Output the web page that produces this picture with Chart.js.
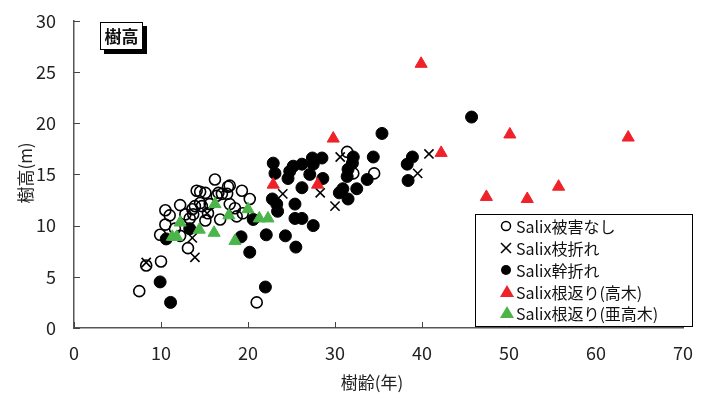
<!DOCTYPE html>
<html>
<head>
<meta charset="utf-8">
<script src="https://cdn.jsdelivr.net/npm/chart.js@4/dist/chart.umd.min.js"></script>
<style>
  html, body { margin: 0; padding: 0; background: #fff; }
  #wrap { position: relative; width: 706px; height: 394px; }
</style>
</head>
<body>
<div id="wrap"><canvas id="c" width="706" height="394"></canvas></div>
<script>
// Tree age (x, years) and tree height (y, m), one pair of arrays per damage type.
const intactAge = [7.5, 8.3, 10.0, 10.5, 11.0, 12.2, 10.5, 9.9, 13.1, 14.5, 16.2, 13.6, 13.9, 14.7, 15.1,
  16.4, 17.0, 17.6, 17.7, 16.8, 15.4, 12.2, 13.3, 12.8, 17.9, 14.1, 15.1, 16.6, 19.3, 20.2, 14.5, 15.6,
  17.9, 18.5, 13.7, 18.7, 19.4, 21.0, 31.4, 32.1, 34.5, 11.6];
const intactHeight = [3.6, 6.1, 6.5, 11.5, 11.0, 12.0, 10.1, 9.1, 7.8, 13.3, 14.5, 11.6, 11.9, 11.9, 10.5,
  12.9, 13.1, 13.1, 13.8, 10.6, 11.2, 9.0, 10.7, 11.1, 13.9, 13.4, 13.2, 13.2, 13.4, 12.6, 12.2, 12.1,
  12.1, 11.7, 11.1, 10.9, 11.2, 2.5, 17.2, 15.1, 15.1, 9.7];

const branchAge = [8.3, 13.9, 13.6, 15.3, 24.0, 28.3, 30.0, 30.6, 40.8, 39.5];
const branchHeight = [6.4, 6.9, 8.8, 11.2, 13.1, 13.2, 11.9, 16.7, 17.0, 15.1];

const trunkAge = [9.9, 11.1, 13.3, 10.6, 19.2, 20.2, 22.0, 22.1, 24.3, 25.5, 22.9, 23.1, 22.8, 23.3, 23.4,
  25.4, 26.2, 27.5, 25.4, 26.2, 24.6, 24.8, 25.2, 26.2, 27.4, 27.5, 28.5, 27.1, 28.6, 30.5, 30.9, 31.5,
  32.5, 31.4, 31.5, 32.0, 32.1, 34.4, 33.7, 35.4, 38.9, 38.3, 38.4, 45.7, 20.6];
const trunkHeight = [4.5, 2.5, 9.7, 8.7, 8.9, 7.4, 4.0, 9.1, 9.0, 7.9, 16.1, 15.1, 12.6, 12.1, 11.4,
  10.7, 10.7, 10.0, 12.1, 13.7, 14.6, 15.3, 15.8, 16.0, 16.6, 16.0, 16.6, 15.0, 14.6, 13.2, 13.6, 12.6,
  13.6, 14.8, 15.5, 16.1, 16.7, 16.7, 14.5, 19.0, 16.7, 16.0, 14.4, 20.6, 10.6];

const upTallAge = [22.9, 28.0, 29.8, 39.9, 42.2, 50.1, 47.4, 52.1, 55.7, 63.7];
const upTallHeight = [14.0, 14.0, 18.5, 25.8, 17.1, 18.9, 12.8, 12.6, 13.8, 18.6];

const upSubAge = [11.3, 11.8, 12.2, 14.4, 16.1, 16.2, 17.8, 18.5, 20.0, 21.3, 22.3];
const upSubHeight = [8.9, 8.9, 10.3, 9.6, 9.3, 12.1, 11.0, 8.5, 11.6, 10.7, 10.7];

const seriesNames = ["Salix被害なし", "Salix枝折れ", "Salix幹折れ", "Salix根返り(高木)", "Salix根返り(亜高木)"];
const xTicks = [0, 10, 20, 30, 40, 50, 60, 70];
const yTicks = [0, 5, 10, 15, 20, 25, 30];

const RED = "#ee2228";
const GREEN = "#4bb54a";
const FONT = '"Noto Sans CJK JP", "Noto Sans", sans-serif';

function pairs(xs, ys) {
  return xs.map((x, i) => ({ x: x, y: ys[i] }));
}

// Inner tick marks, axis titles, the 樹高 tag and the legend box.
const decorations = {
  id: "decorations",
  afterDraw(chart) {
    const ctx = chart.ctx;
    const xs = chart.scales.x;
    const ys = chart.scales.y;
    const area = chart.chartArea;
    ctx.save();
    ctx.strokeStyle = "#444";
    ctx.lineWidth = 1;
    ctx.beginPath();
    xTicks.forEach((v) => {
      const px = Math.round(xs.getPixelForValue(v)) + 0.5;
      ctx.moveTo(px, area.bottom);
      ctx.lineTo(px, area.bottom - 6);
    });
    yTicks.forEach((v) => {
      const py = Math.round(ys.getPixelForValue(v)) + 0.5;
      ctx.moveTo(area.left, py);
      ctx.lineTo(area.left + 6, py);
    });
    ctx.stroke();

    // Axis titles
    ctx.fillStyle = "#222";
    ctx.font = "17px " + FONT;
    ctx.textAlign = "center";
    ctx.textBaseline = "middle";
    ctx.fillText("樹齢(年)", 372, 383);
    ctx.save();
    ctx.translate(26, 173);
    ctx.rotate(-Math.PI / 2);
    ctx.fillText("樹高(m)", 0, 0);
    ctx.restore();

    // 樹高 tag with drop shadow
    ctx.fillStyle = "#000";
    ctx.fillRect(104, 26, 43, 28);
    ctx.fillStyle = "#fff";
    ctx.fillRect(100, 22, 43, 28);
    ctx.strokeStyle = "#000";
    ctx.lineWidth = 1;
    ctx.strokeRect(100.5, 22.5, 42, 27);
    ctx.fillStyle = "#111";
    ctx.font = "bold 17px " + FONT;
    ctx.fillText("樹高", 121.5, 36.5);

    // Legend
    ctx.fillStyle = "#fff";
    ctx.fillRect(475, 214, 217, 112);
    ctx.strokeStyle = "#000";
    ctx.strokeRect(475.5, 214.5, 217, 112);
    const rows = [226, 248, 270, 292, 313];
    const mx = 506;
    ctx.lineWidth = 1.5;
    // open circle
    ctx.beginPath();
    ctx.arc(mx, rows[0], 4.5, 0, Math.PI * 2);
    ctx.strokeStyle = "#000";
    ctx.stroke();
    // cross
    ctx.beginPath();
    ctx.moveTo(mx - 5, rows[1] - 5);
    ctx.lineTo(mx + 5, rows[1] + 5);
    ctx.moveTo(mx + 5, rows[1] - 5);
    ctx.lineTo(mx - 5, rows[1] + 5);
    ctx.stroke();
    // filled circle
    ctx.beginPath();
    ctx.arc(mx, rows[2], 5, 0, Math.PI * 2);
    ctx.fillStyle = "#000";
    ctx.fill();
    // triangles
    [[rows[3], RED], [rows[4], GREEN]].forEach(([ry, col]) => {
      ctx.beginPath();
      ctx.moveTo(mx + 1, ry - 7);
      ctx.lineTo(mx + 8, ry + 5);
      ctx.lineTo(mx - 6, ry + 5);
      ctx.closePath();
      ctx.fillStyle = col;
      ctx.fill();
    });
    ctx.fillStyle = "#111";
    ctx.font = "16px " + FONT;
    ctx.textAlign = "left";
    seriesNames.forEach((name, i) => {
      ctx.fillText(name, 516, rows[i] + 1);
    });
    ctx.restore();
  },
};

new Chart(document.getElementById("c"), {
  type: "scatter",
  data: {
    datasets: [
      {
        label: seriesNames[4],
        data: pairs(upSubAge, upSubHeight),
        pointStyle: "triangle",
        pointRadius: 7,
        backgroundColor: GREEN,
        borderColor: GREEN,
        borderWidth: 1,
      },
      {
        label: seriesNames[3],
        data: pairs(upTallAge, upTallHeight),
        pointStyle: "triangle",
        pointRadius: 7,
        backgroundColor: RED,
        borderColor: RED,
        borderWidth: 1,
      },
      {
        label: seriesNames[2],
        data: pairs(trunkAge, trunkHeight),
        pointStyle: "circle",
        pointRadius: 6,
        backgroundColor: "#000",
        borderColor: "#000",
        borderWidth: 1,
      },
      {
        label: seriesNames[1],
        data: pairs(branchAge, branchHeight),
        pointStyle: "crossRot",
        pointRadius: 6.5,
        backgroundColor: "#000",
        borderColor: "#000",
        borderWidth: 1.6,
      },
      {
        label: seriesNames[0],
        data: pairs(intactAge, intactHeight),
        pointStyle: "circle",
        pointRadius: 5.5,
        backgroundColor: "rgba(255,255,255,0)",
        borderColor: "#000",
        borderWidth: 1.6,
      },
    ],
  },
  options: {
    responsive: false,
    animation: false,
    layout: { padding: { left: 0, right: 23, top: 18, bottom: 0 } },
    scales: {
      x: {
        type: "linear",
        min: 0,
        max: 70,
        afterFit: (s) => { s.height = 66; },
        afterBuildTicks: (s) => { s.ticks = xTicks.map((v) => ({ value: v })); },
        grid: { display: false },
        border: { display: true, color: "#555", width: 1.5 },
        ticks: { color: "#222", padding: 6, font: { family: FONT, size: 18 } },
      },
      y: {
        type: "linear",
        min: 0,
        max: 30,
        afterFit: (s) => { s.width = 74; },
        afterBuildTicks: (s) => { s.ticks = yTicks.map((v) => ({ value: v })); },
        grid: { display: false },
        border: { display: true, color: "#555", width: 1.5 },
        ticks: { color: "#222", padding: 10, font: { family: FONT, size: 18 } },
      },
    },
    plugins: {
      legend: { display: false },
      tooltip: { enabled: false },
    },
  },
  plugins: [decorations],
});
</script>
</body>
</html>
